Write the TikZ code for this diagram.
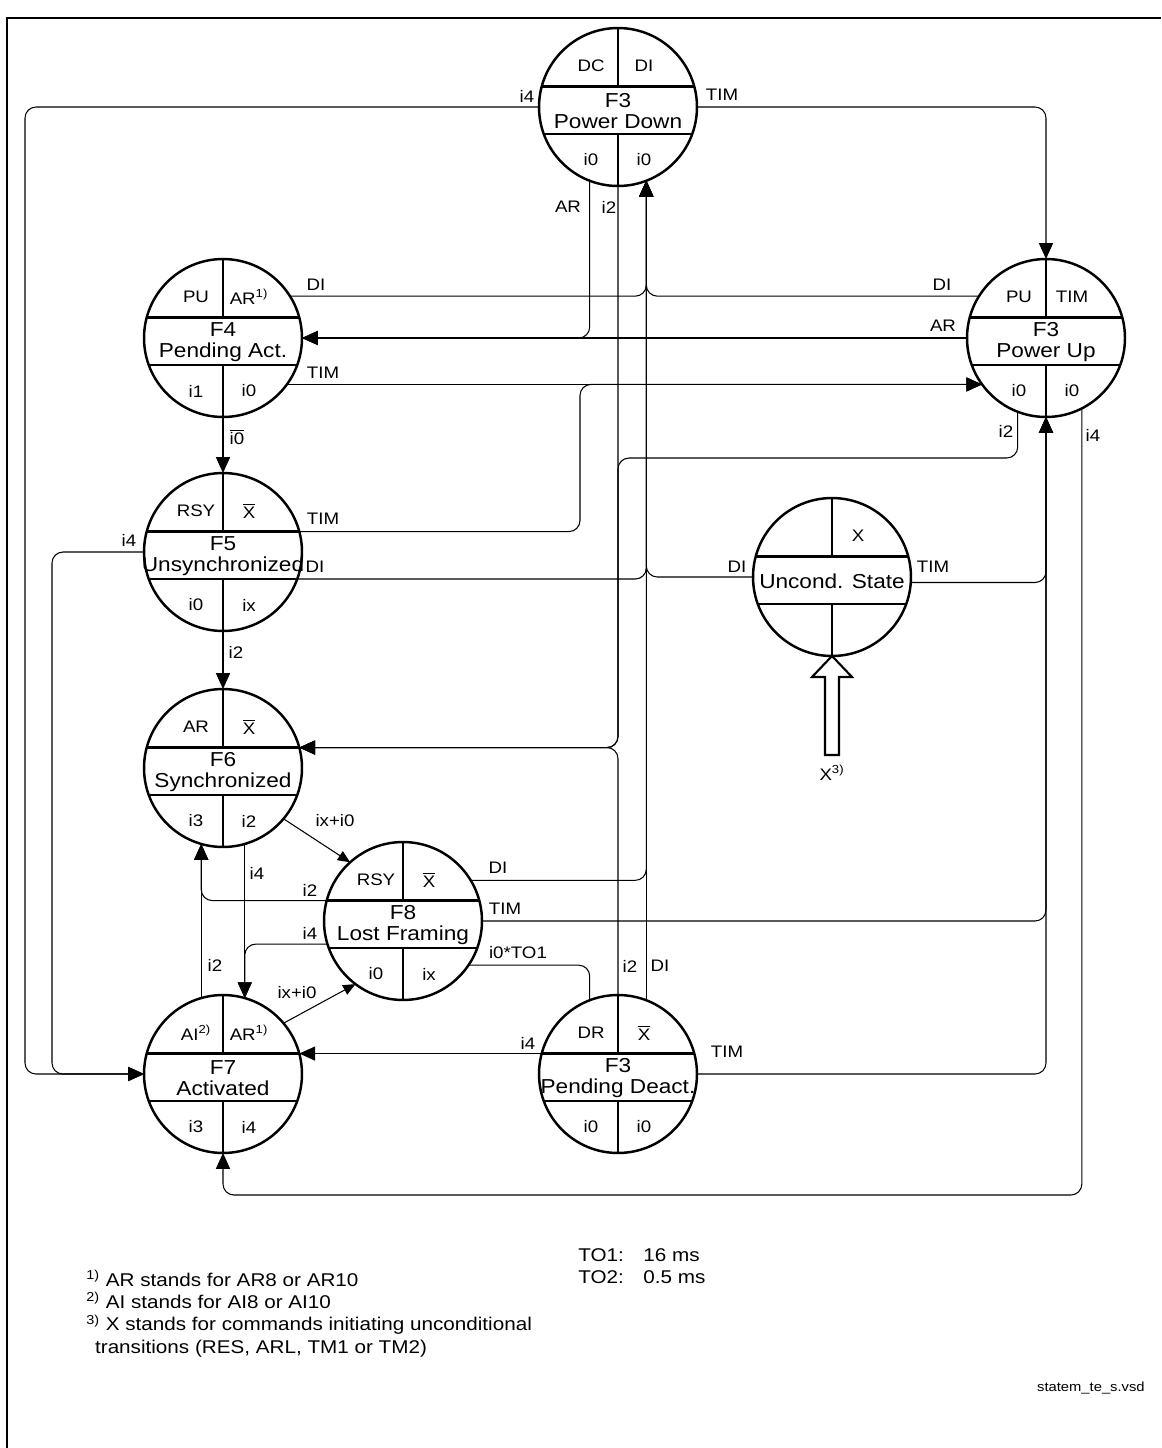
\documentclass[tikz,border=0pt]{standalone}
\usepackage{fontspec}
\setmainfont{Liberation Sans}[FakeStretch=1.12]
\usetikzlibrary{arrows.meta}
\newcommand{\notX}{$\overline{\mbox{X}}$}

\begin{document}
\begin{tikzpicture}[
        x=0.02cm, y=-0.02cm, % pixel grid, y runs downwards
        state/.style={circle, draw, line width=1.4pt, minimum size=3.16cm, inner sep=0pt, outer sep=0pt},
        divider/.style={line width=1.4pt},
        conn/.style={line width=0.6pt, rounded corners=0.22cm, -{Triangle[length=9pt, width=8pt]}},
        diag/.style={line width=0.6pt, -{Triangle[length=7pt, width=6pt]}},
        lbl/.style={font=\fontsize{9.5}{11}\selectfont, inner sep=0pt},
        band/.style={font=\fontsize{11.5}{12}\selectfont, align=center, inner sep=0pt}
    ]
        \useasboundingbox (0,0) rectangle (1161,1448);

        % Frame
        \draw[line width=0.6pt] (7,1448) -- (7,18) -- (1161,18);

        % States
        \foreach \n/\x/\y/\lA/\lB/\lM/\lC/\lD in {
            pdown/618/107/DC/DI/{F3\\Power Down}/i0/i0,
            pact/223/338/PU/{AR\textsuperscript{1)}}/{F4\\Pending Act.}/i1/i0,
            pup/1046/338/PU/TIM/{F3\\Power Up}/i0/i0,
            unsync/223/552/RSY/{\notX}/{F5\\Unsynchronized}/i0/ix,
            uncond/832/577/{}/X/{Uncond. State}/{}/{},
            sync/223/768/AR/{\notX}/{F6\\Synchronized}/i3/i2,
            lostfr/403/921/RSY/{\notX}/{F8\\Lost Framing}/i0/ix,
            activ/223/1074/{AI\textsuperscript{2)}}/{AR\textsuperscript{1)}}/{F7\\Activated}/i3/i4,
            pdeact/618/1074/DR/{\notX}/{F3\\Pending Deact.}/i0/i0}{
            \node[state] (\n) at (\x,\y) {};
            \draw[divider] (\n.north) -- (\n.north |- \n.15) (\n.165) -- (\n.15)
                (\n.200) -- (\n.-20) (\n.south) -- (\n.south |- \n.-20);
            \node[lbl] (\n-a) at ([shift={(-27,-41)}]\n.center) {\lA};
            \node[lbl] (\n-b) at ([shift={(26,-41)}]\n.center) {\lB};
            \node[band] (\n-m) at ([shift={(0,4)}]\n.center) {\lM};
            \node[lbl] (\n-c) at ([shift={(-27,53)}]\n.center) {\lC};
            \node[lbl] (\n-d) at ([shift={(26,53)}]\n.center) {\lD};
        }

        % Helper coordinates for the long runs
        \coordinate (lftA) at (25,0);
        \coordinate (lftB) at (52,0);
        \coordinate (usrise) at (580,0);
        \coordinate (pui2) at (0,458);
        \coordinate (ret) at (0,1195);

        % Power Down
        \draw[conn] (pdown.west) -| (lftA |- activ.west) -- (activ.west);
        \draw[conn] (pdown.east) -| (pup.north);
        \draw[conn] (pdown.-111) |- (pact.east);
        \draw[conn] (pdown.south) |- (sync.15);

        % Pending Act.
        \draw[conn] (pact.32) -| (pdown.-69);
        \draw[conn] (pact.-36) -- (pup.216);
        \draw[conn] (pact.south) -- (unsync.north);

        % Power Up
        \draw[conn] (pup.148) -| (pdown.-69);
        \draw[conn] (pup.west) -- (pact.east);
        \draw[conn] (pup.-111) |- (pdown.south |- pui2) |- (sync.15);
        \draw[conn] (pup.-63) |- (activ.south |- ret) -- (activ.south);

        % Unsynchronized
        \draw[conn] (unsync.15) -| (usrise |- pup.216) -- (pup.216);
        \draw[conn] (unsync.-20) -| (pdown.-69);
        \draw[conn] (unsync.west) -| (lftB |- activ.west) -- (activ.west);
        \draw[conn] (unsync.south) -- (sync.north);

        % Uncond. State
        \draw[conn] (uncond.west) -| (pdown.-69);
        \draw[conn] (uncond.-4) -| (pup.south);
        \draw[line width=1.2pt] (uncond.south) -- ++(-20,21) -- ++(13,0) -- ++(0,78)
            coordinate (xfoot) -- ++(14,0) -- ++(0,-78) -- ++(13,0) -- cycle;

        % Synchronized
        \draw[diag] (sync.-40) -- (lostfr.132);
        \draw[conn] (sync.-74) -- (activ.74);

        % Lost Framing
        \draw[conn] (lostfr.31) -| (pdown.-69);
        \draw[conn] (lostfr.east) -| (pup.south);
        \draw[conn, -] (lostfr.-34) -| (pdeact.111);
        \draw[conn] (lostfr.165) -| (sync.-106);
        \draw[conn] (lostfr.197) -| (activ.74);

        % Activated
        \draw[conn] (activ.106) -- (sync.-106);
        \draw[diag] (activ.40) -- (lostfr.233);

        % Pending Deact.
        \draw[conn] (pdeact.165) -- (activ.15);
        \draw[conn] (pdeact.east) -| (pup.south);
        \draw[conn] (pdeact.north) |- (sync.15);
        \draw[conn] (pdeact.69) -- (pdown.-69);

        % Transition labels
        \node[lbl] (t-pd-i4) at (527,96) {i4};
        \node[lbl] (t-pd-tim) at (722,95) {TIM};
        \node[lbl] (t-pd-ar) at (568,207) {AR};
        \node[lbl] (t-pd-i2) at (609,207) {i2};
        \node[lbl] (t-pa-di) at (316,285) {DI};
        \node[lbl] (t-pa-tim) at (323,373) {TIM};
        \node[lbl] (t-pa-i0) at (237,437) {$\overline{\mbox{i0}}$};
        \node[lbl] (t-pu-di) at (942,285) {DI};
        \node[lbl] (t-pu-ar) at (943,326) {AR};
        \node[lbl] (t-pu-i2) at (1006,431) {i2};
        \node[lbl] (t-pu-i4) at (1093,435) {i4};
        \node[lbl] (t-us-tim) at (323,519) {TIM};
        \node[lbl] (t-us-di) at (315,567) {DI};
        \node[lbl] (t-us-i4) at (129,540) {i4};
        \node[lbl] (t-us-i2) at (236,652) {i2};
        \node[lbl] (t-uc-di) at (737,567) {DI};
        \node[lbl] (t-uc-tim) at (933,567) {TIM};
        \node[lbl] (t-uc-x) at (832,773) {X\textsuperscript{3)}};
        \node[lbl] (t-sy-ix) at (335,821) {ix+i0};
        \node[lbl] (t-sy-i4) at (257,873) {i4};
        \node[lbl] (t-lf-di) at (498,868) {DI};
        \node[lbl] (t-lf-tim) at (505,909) {TIM};
        \node[lbl] (t-lf-to) at (518,953) {i0*TO1};
        \node[lbl] (t-lf-i2) at (310,890) {i2};
        \node[lbl] (t-lf-i4) at (310,933) {i4};
        \node[lbl] (t-ac-i2) at (215,965) {i2};
        \node[lbl] (t-ac-ix) at (297,993) {ix+i0};
        \node[lbl] (t-pe-i4) at (528,1043) {i4};
        \node[lbl] (t-pe-tim) at (727,1052) {TIM};
        \node[lbl] (t-pe-i2) at (630,966) {i2};
        \node[lbl] (t-pe-di) at (660,966) {DI};

        % Notes
        \node[anchor=north west, align=left, inner sep=0pt, font=\fontsize{10.5}{12.6}\selectfont] (notes) at (86,1270) {%
            \textsuperscript{1)} AR stands for AR8 or AR10\\
            \textsuperscript{2)} AI stands for AI8 or AI10\\
            \textsuperscript{3)} X stands for commands initiating unconditional\\
            \hspace*{5pt}transitions (RES, ARL, TM1 or TM2)};
        \node[anchor=north west, align=left, inner sep=0pt, font=\fontsize{10.5}{12.6}\selectfont] (timers) at (578,1248) {%
            \makebox[1.3cm][l]{TO1:}16 ms\\
            \makebox[1.3cm][l]{TO2:}0.5 ms};
        \node[anchor=east, inner sep=0pt, font=\fontsize{7.5}{9}\selectfont] (fname) at (1145,1388) {statem\_te\_s.vsd};

    \end{tikzpicture}
\end{document}
